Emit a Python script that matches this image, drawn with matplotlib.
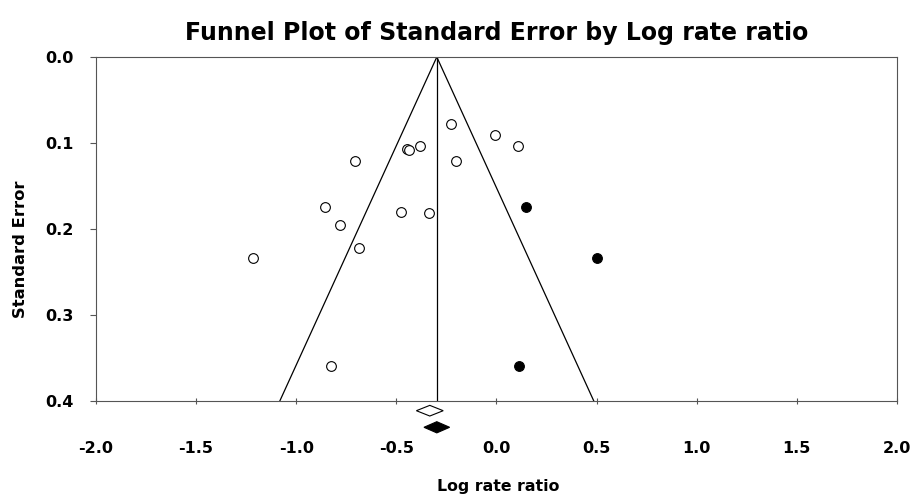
import numpy as np
from matplotlib import pyplot as plt
from matplotlib.patches import Polygon

# Observed studies (log rate ratio, standard error)
obs_lrr = [-0.225, -0.008, 0.108, -0.449, -0.436, -0.383, -0.709, -0.202,
           -0.856, -0.476, -0.338, -0.781, -0.689, -1.217, -0.824]
obs_se = [0.078, 0.091, 0.104, 0.107, 0.108, 0.104, 0.121, 0.121,
          0.174, 0.180, 0.181, 0.195, 0.222, 0.234, 0.359]

# Imputed studies (trim and fill)
imp_lrr = [0.145, 0.501, 0.113]
imp_se = [0.174, 0.234, 0.359]

# Summary estimates
obs_est = -0.333
adj_est = -0.298
center = -0.298

xticks = [-2.0, -1.5, -1.0, -0.5, 0.0, 0.5, 1.0, 1.5, 2.0]
yticks = [0.0, 0.1, 0.2, 0.3, 0.4]

fig = plt.figure(figsize=(9.15, 4.94), dpi=100)
ax = fig.add_axes([0.1049, 0.1883, 0.8754, 0.6963])

# Funnel
se_max = 0.4
ax.plot([center - 1.96 * se_max, center, center + 1.96 * se_max],
        [se_max, 0.0, se_max], color="black", lw=0.9)
ax.plot([center, center], [0.0, se_max], color="black", lw=0.9)

ax.plot(obs_lrr, obs_se, "o", mfc="white", mec="black", ms=7, mew=0.8)
ax.plot(imp_lrr, imp_se, "o", mfc="black", mec="black", ms=7, mew=0.8)

# Diamonds below the axis
def diamond(x, y, hw, hh, fc):
    p = Polygon([[x - hw, y], [x, y - hh], [x + hw, y], [x, y + hh]],
                closed=True, fc=fc, ec="black", lw=0.8, clip_on=False)
    ax.add_patch(p)

diamond(obs_est, 0.4113, 0.067, 0.0062, "white")
diamond(adj_est, 0.4306, 0.064, 0.0065, "black")

ax.set_xlim(-2.0, 2.0)
ax.set_ylim(0.4, 0.0)
ax.set_xticks(xticks)
ax.set_yticks(yticks)
ax.set_xticklabels(["{0:.1f}".format(v) for v in xticks], fontweight="bold", fontsize=11.5)
ax.set_yticklabels(["{0:.1f}".format(v) for v in yticks], fontweight="bold", fontsize=11.5)
ax.tick_params(axis="x", direction="inout", length=5, pad=26, color="#555555")
ax.tick_params(axis="y", direction="out", length=4, pad=12, color="#555555")
for s in ax.spines.values():
    s.set_color("#555555")
    s.set_linewidth(0.8)

# Axis labels placed in figure coordinates
fig.text(498 / 915, 1 - 486 / 494, "Log rate ratio", fontweight="bold",
         fontsize=11.3, ha="center", va="center")
fig.text(21 / 915, 1 - 249 / 494, "Standard Error", fontweight="bold",
         fontsize=11.8, ha="center", va="center", rotation=90)
ax.set_title("Funnel Plot of Standard Error by Log rate ratio",
             fontweight="bold", fontsize=17, pad=12)

fig.savefig("out.png", dpi=100)
